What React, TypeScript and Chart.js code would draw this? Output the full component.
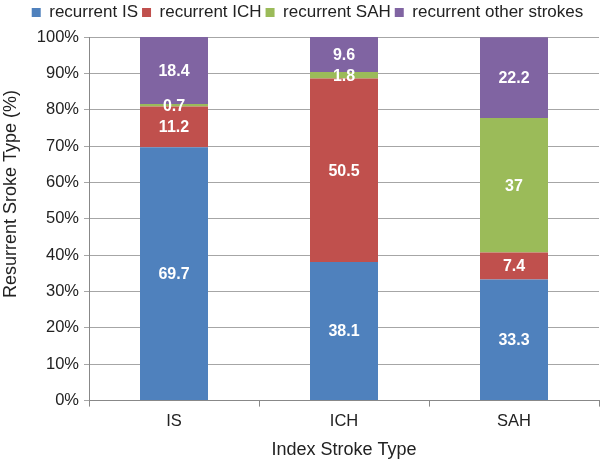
import React, { useEffect, useRef } from "react";
import { Chart, registerables } from "chart.js";

Chart.register(...registerables);

const categories = ["IS", "ICH", "SAH"];
const recurrentIS = [69.7, 38.1, 33.3];
const recurrentICH = [11.2, 50.5, 7.4];
const recurrentSAH = [0.7, 1.8, 37];
const recurrentOther = [18.4, 9.6, 22.2];
const seriesNames = ["recurrent IS", "recurrent ICH", "recurrent SAH", "recurrent other strokes"];
const seriesColors = ["#4F81BD", "#C0504D", "#9BBB59", "#8064A2"];
const yTicks = [0, 10, 20, 30, 40, 50, 60, 70, 80, 90, 100];
const yTitle = "Resurrent Sroke Type (%)";

const FONT = "'Liberation Sans', Arial, Helvetica, sans-serif";

const labelPlugin = {
  id: "segLabels",
  afterDatasetsDraw(chart: any) {
    const ctx = chart.ctx;
    ctx.save();
    ctx.fillStyle = "#ffffff";
    ctx.font = `bold 16px ${FONT}`;
    ctx.textAlign = "center";
    ctx.textBaseline = "middle";
    chart.data.datasets.forEach((ds: any, di: number) => {
      const meta = chart.getDatasetMeta(di);
      meta.data.forEach((el: any, i: number) => {
        const v = ds.data[i];
        const y = (el.y + el.base) / 2;
        ctx.fillText(String(v), el.x, y + 1);
      });
    });
    ctx.restore();
  },
};

const layoutPlugin = {
  id: "layoutTweaks",
  afterInit(chart: any) {
    const legend = chart.legend;
    if (legend && !legend.__patched) {
      const orig = legend.fit.bind(legend);
      legend.fit = function () {
        orig();
        this.height += 6;
      };
      legend.__patched = true;
    }
  },
  afterLayout(chart: any) {
    const legend = chart.legend;
    if (legend) {
      legend.left += 8;
      legend.right += 8;
    }
  },
  afterDraw(chart: any) {
    const ctx = chart.ctx;
    ctx.save();
    ctx.fillStyle = "#222";
    ctx.font = `18px ${FONT}`;
    ctx.textAlign = "center";
    ctx.textBaseline = "middle";
    ctx.translate(11, 194);
    ctx.rotate(-Math.PI / 2);
    ctx.fillText(yTitle, 0, 0);
    ctx.restore();
  },
};

export default function App() {
  const ref = useRef<HTMLCanvasElement>(null);
  useEffect(() => {
    if (!ref.current) return;
    const data = [recurrentIS, recurrentICH, recurrentSAH, recurrentOther];
    const chart = new Chart(ref.current, {
      type: "bar",
      data: {
        labels: categories,
        datasets: seriesNames.map((name, i) => ({
          label: name,
          data: data[i],
          backgroundColor: seriesColors[i],
          borderWidth: 0,
          barPercentage: 0.4,
          categoryPercentage: 1,
        })),
      },
      options: {
        animation: false,
        responsive: false,
        maintainAspectRatio: false,
        layout: { padding: { left: 0, right: 1, top: 0, bottom: 0 } },
        plugins: {
          legend: {
            position: "top",
            labels: {
              boxWidth: 9,
              boxHeight: 9,
              padding: 4,
              color: "#222",
              font: { family: FONT, size: 17 },
            },
          },
          tooltip: { enabled: false },
        },
        scales: {
          x: {
            stacked: true,
            grid: {
              display: true,
              offset: true,
              drawOnChartArea: false,
              drawTicks: true,
              tickLength: 6,
              color: "#888",
            },
            border: { display: true, color: "#888" },
            ticks: { color: "#222", font: { family: FONT, size: 16.5 }, padding: 5 },
            title: {
              display: true,
              text: "Index Stroke Type",
              color: "#222",
              font: { family: FONT, size: 18 },
              padding: { top: 3, bottom: 0 },
            },
          },
          y: {
            stacked: true,
            min: 0,
            max: 100,
            afterBuildTicks: (scale: any) => {
              scale.ticks = yTicks.map((v) => ({ value: v }));
            },
            afterFit: (scale: any) => {
              scale.width = 89;
            },
            grid: { color: "#a6a6a6", tickLength: 5, drawTicks: true },
            border: { display: true, color: "#888" },
            ticks: {
              color: "#222",
              font: { family: FONT, size: 16.5 },
              padding: 5,
              callback: (v: any) => `${v}%`,
            },
            title: { display: false },
          },
        },
      },
      plugins: [labelPlugin, layoutPlugin],
    });
    return () => chart.destroy();
  }, []);
  return (
    <div style={{ position: "fixed", left: 0, top: 0, width: 600, height: 461, background: "#fff" }}>
      <canvas ref={ref} width={600} height={461} style={{ width: 600, height: 461 }} />
    </div>
  );
}
